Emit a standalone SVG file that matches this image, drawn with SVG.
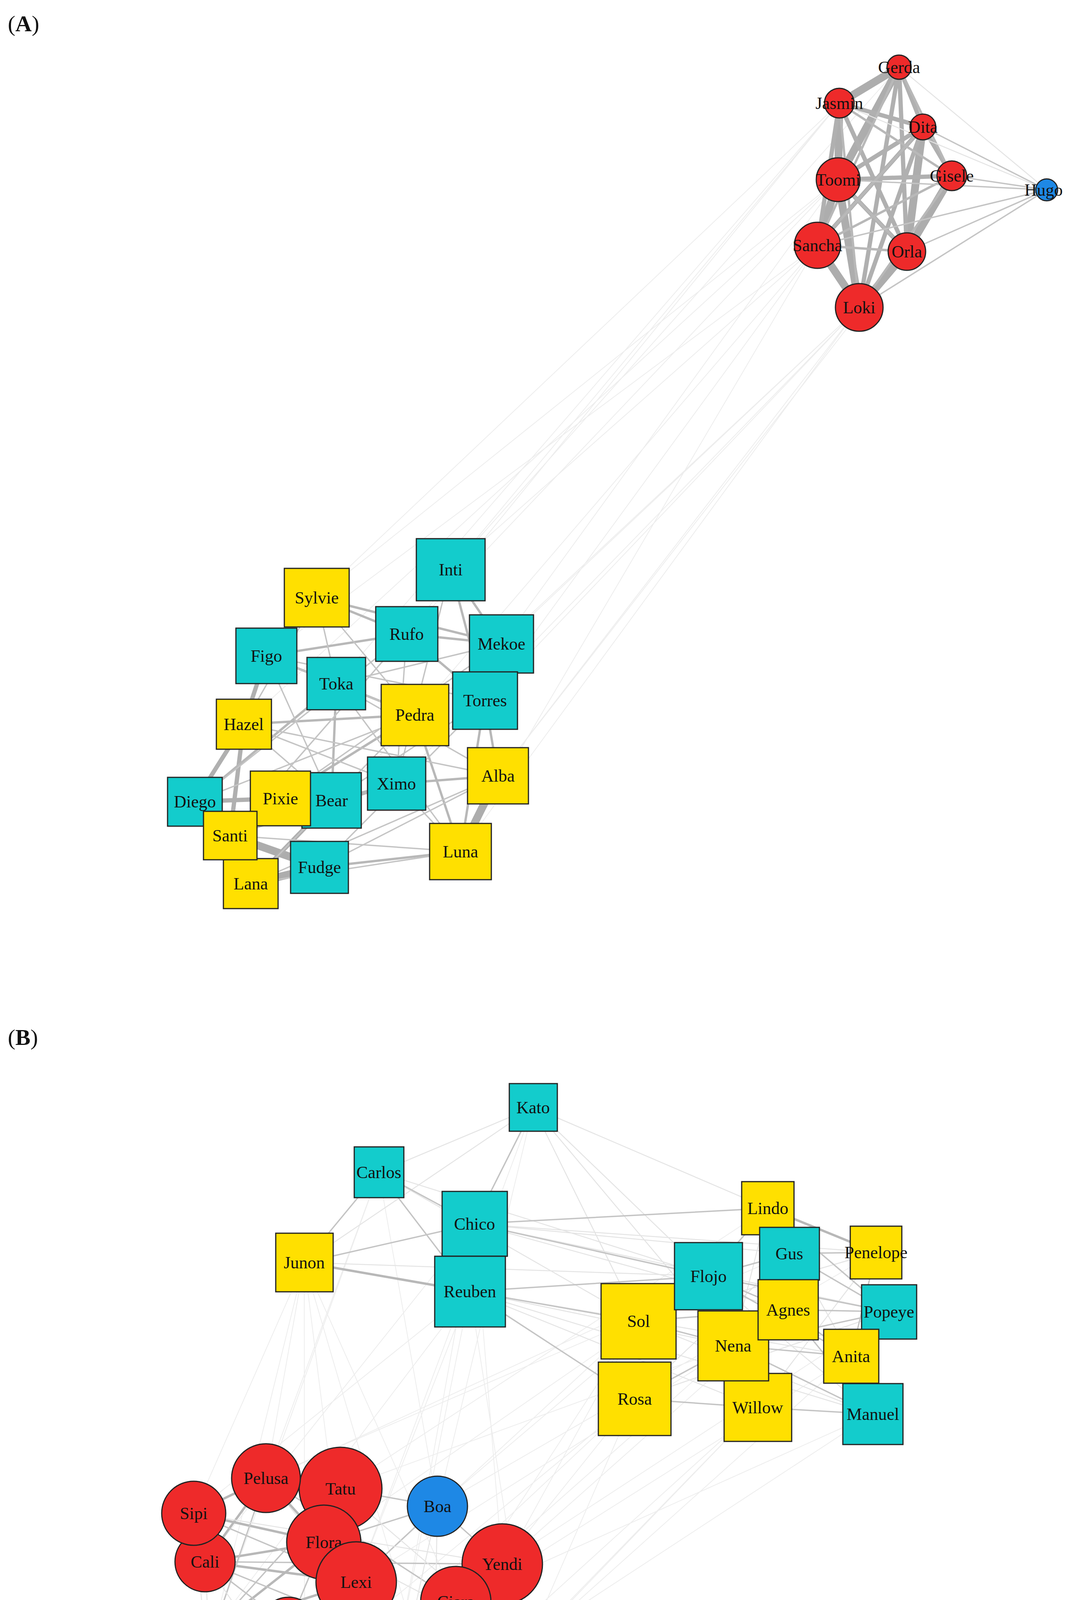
<svg xmlns="http://www.w3.org/2000/svg" width="2755" height="4697" viewBox="0 0 2755 4697">
<style>
text{font-family:"Liberation Serif","Times New Roman",serif;font-size:44px;fill:#111;text-anchor:middle;dominant-baseline:central}
.pl{font-size:58px;text-anchor:start;dominant-baseline:auto}
.r{fill:#ee2a2a;stroke:#222;stroke-width:3}
.b{fill:#1e88e5;stroke:#222;stroke-width:3}
.c{fill:#13cccc;stroke:#222;stroke-width:3}
.y{fill:#ffe000;stroke:#222;stroke-width:3}
.e{fill:none;stroke-linecap:round}
.w1{stroke:#adadad;stroke-width:20}
.w2{stroke:#b0b0b0;stroke-width:11}
.w3{stroke:#b8b8b8;stroke-width:6}
.w4{stroke:#c4c4c4;stroke-width:3.5}
.w5{stroke:#e4e4e4;stroke-width:2.5}
.w6{stroke:#ededed;stroke-width:2}
</style>
<rect width="2755" height="4697" fill="#fff"/>
<text class="pl" x="20" y="80">(<tspan font-weight="bold">A</tspan>)</text>
<text class="pl" x="20" y="2675">(<tspan font-weight="bold">B</tspan>)</text>
<g id="connectors">
<!-- Panel A inter-cluster faint -->
<path class="e w6" d="M2149 264L1154 1458M2149 264L811 1530M2146 460L1041 1623M2146 460L1284 1648M2093 628L1242 1793M2093 628L1062 1830M2200 787L1275 1986M2200 787L1179 2180M2200 787L1015 2006M2093 628L682 1679M2149 264L861 1750M2200 787L1284 1648M2302 172L1154 1458M2146 460L811 1530M2093 628L1154 1458M2200 787L1242 1793M2322 644L1275 1986M2200 787L849 2049M2093 628L1179 2180M2146 460L624 1854M2149 264L1041 1623"/>
<!-- Panel A red cluster -->
<path class="e w1" d="M2149 264L2302 172M2149 264L2146 460M2146 460L2093 628M2093 628L2200 787M2322 644L2200 787M2363 325L2322 644M2302 172L2146 460M2146 460L2200 787M2437 450L2322 644"/>
<path class="e w2" d="M2302 172L2363 325M2149 264L2363 325M2302 172L2200 787M2302 172L2322 644M2363 325L2146 460M2363 325L2437 450M2149 264L2093 628M2146 460L2437 450M2363 325L2093 628M2363 325L2200 787M2149 264L2322 644M2146 460L2322 644"/>
<path class="e w3" d="M2302 172L2437 450M2302 172L2093 628M2149 264L2437 450M2149 264L2200 787M2093 628L2322 644M2437 450L2093 628M2437 450L2200 787M2146 460L2322 644M2093 628L2363 325"/>
<path class="e w4" d="M2680 486L2437 450M2680 486L2363 325M2680 486L2322 644M2680 486L2200 787M2680 486L2146 460M2680 486L2093 628"/>
<path class="e w5" d="M2680 486L2302 172M2680 486L2149 264"/>
<!-- Panel A bottom cluster -->
<path class="e w1" d="M499 2052L589 2139M589 2139L642 2262M642 2262L818 2220M589 2139L818 2220M1179 2180L1275 1986"/>
<path class="e w2" d="M624 1854L589 2139M499 2052L718 2044M718 2044L849 2049M642 2262L849 2049M499 2052L642 2262M682 1679L624 1854M624 1854L499 2052"/>
<path class="e w3" d="M811 1530L1041 1623M682 1679L1041 1623M861 1750L1062 1830M1041 1623L1284 1648M1154 1458L1284 1648M1242 1793L1275 1986M1015 2006L1275 1986M818 2220L1179 2180M1062 1830L1179 2180M682 1679L861 1750M624 1854L1062 1830M849 2049L1015 2006M1241 1793L1179 2180M861 1750L849 2049M1041 1623L1242 1793M718 2044L1062 1830M589 2139L1015 2006M499 2052L861 1750M1154 1458L1242 1793M811 1530L1284 1648"/>
<path class="e w4" d="M811 1530L861 1750M811 1530L1062 1830M682 1679L1062 1830M682 1679L1242 1793M624 1854L1275 1986M624 1854L1015 2006M499 2052L1041 1623M499 2052L1062 1830M642 2262L1062 1830M642 2262L1275 1986M818 2220L1275 1986M589 2139L1179 2180M718 2044L1284 1648M849 2049L1242 1793M861 1750L1284 1648M861 1750L1179 2180M1015 2006L1154 1458M1041 1623L1015 2006M682 1679L849 2049M811 1530L624 1854M589 2139L1041 1623M642 2262L1179 2180M818 2220L1242 1793M1015 2006L1179 2180M624 1854L849 2049M861 1750L1275 1986"/>
<!-- Panel B faint long -->
<path class="e w6" d="M779 3232L549 4168M779 3232L496 3874M779 3232L681 3784M779 3232L952 4619M779 3232L780 4373M779 3232L1110 4357M1203 3306L912 4050M1203 3306L1024 4201M1203 3306L549 4168M1203 3306L496 3874M1635 3382L912 4050M1635 3382L1167 4100M1625 3581L1286 4004M1625 3581L1347 4218M1625 3581L780 4373M1940 3603L1110 4357M1940 3603L1347 4218M1877 3445L1024 4201M1877 3445L872 3811M1814 3267L829 3948M1814 3267L1120 3856M2018 3353L1286 4004M2179 3472L1347 4218M2235 3620L1167 4100M2235 3620L1110 4357M2021 3209L681 3784M1966 3093L872 3811M1365 2835L1120 3856M1365 2835L912 4050M970 3001L681 3784M970 3001L549 4168M1215 3133L1024 4201M1215 3133L525 3998M2276 3358L1286 4004M2243 3206L1120 3856M1635 3382L952 4619M1625 3581L550 4470M1940 3603L952 4619M2179 3472L1024 4201M1877 3445L739 4162M1814 3267L496 3874M1203 3306L1347 4218M1215 3133L1286 4004M779 3232L1167 4100M970 3001L1120 3856"/>
<path class="e w5" d="M1365 2835L1635 3382M1365 2835L1814 3267M1365 2835L1966 3093M1365 2835L970 3001M1365 2835L779 3232M1365 2835L1877 3445M970 3001L1814 3267M970 3001L1635 3382M779 3232L1814 3267M779 3232L1635 3382M1215 3133L2021 3209M1215 3133L2018 3353M1203 3306L2179 3472M1203 3306L2235 3620M1203 3306L1940 3603M1215 3133L2243 3206M1215 3133L2276 3358M1203 3306L1877 3445M1635 3382L2243 3206M1625 3581L2276 3358M1625 3581L2021 3209M1635 3382L2235 3620M1814 3267L2235 3620M1966 3093L2179 3472M1966 3093L1877 3445M2243 3206L1940 3603"/>
<path class="e w4" d="M970 3001L779 3232M970 3001L1203 3306M970 3001L1215 3133M779 3232L1215 3133M1365 2835L1215 3133M1203 3306L1625 3581M1203 3306L1814 3267M1203 3306L1635 3382M1215 3133L1966 3093M1215 3133L1814 3267M1966 3093L2243 3206M2021 3209L2243 3206M2021 3209L2276 3358M1814 3267L2179 3472M2018 3353L2276 3358M2018 3353L2179 3472M1877 3445L2179 3472M1940 3603L2235 3620M1625 3581L1940 3603M1625 3581L1877 3445M1635 3382L1877 3445M1814 3267L2021 3209M1814 3267L2276 3358M1877 3445L2276 3358M1966 3093L2276 3358M2243 3206L2179 3472M2018 3353L2235 3620M1877 3445L2235 3620M1814 3267L2018 3353M1635 3382L2018 3353M1966 3093L1814 3267"/>
<path class="e w3" d="M779 3232L1203 3306M1966 3093L2243 3206M2021 3209L2018 3353M1877 3445L1940 3603"/>
<!-- Panel B red cluster -->
<path class="e w3" d="M496 3874L681 3784M496 3874L829 3948M525 3998L829 3948M525 3998L681 3784M549 4168L912 4050M549 4168L829 3948M549 4168L739 4162M739 4162L1024 4201M549 4168L1024 4201M525 3998L912 4050M681 3784L829 3948"/>
<path class="e w4" d="M549 4168L681 3784M549 4168L872 3811M739 4162L912 4050M739 4162L829 3948M496 3874L912 4050M525 3998L739 4162M525 3998L1024 4201M1024 4201L1347 4218M1167 4100L1347 4218M1110 4357L1347 4218M780 4373L1110 4357M780 4373L1024 4201M550 4470L780 4373M550 4470L1024 4201M550 4470L912 4050M952 4619L780 4373M952 4619L1110 4357M952 4619L1347 4218M952 4619L1024 4201M550 4470L952 4619M829 3948L1120 3856M912 4050L1120 3856M872 3811L1120 3856M1120 3856L1286 4004M1024 4201L1286 4004M739 4162L1167 4100M549 4168L550 4470M549 4168L780 4373M739 4162L780 4373M1167 4100L1110 4357M549 4168L1167 4100M525 3998L1286 4004M681 3784L1167 4100"/>
<path class="e w5" d="M496 3874L550 4470M525 3998L550 4470M525 3998L952 4619M739 4162L952 4619M872 3811L1347 4218M1120 3856L952 4619M1120 3856L1110 4357M681 3784L1024 4201M496 3874L1286 4004M829 3948L1347 4218M912 4050L1110 4357M549 4168L1110 4357M780 4373L1347 4218"/>
</g>
<!-- Panel A nodes -->
<g id="n-Gerda"><circle class="r" cx="2302" cy="172" r="31"/><text x="2302" y="172" font-size="38">Gerda</text></g>
<g id="n-Jasmin"><circle class="r" cx="2149" cy="264" r="38"/><text x="2149" y="264" font-size="38">Jasmin</text></g>
<g id="n-Dita"><circle class="r" cx="2363" cy="325" r="33"/><text x="2363" y="325" font-size="38">Dita</text></g>
<g id="n-Toomi"><circle class="r" cx="2146" cy="460" r="56"/><text x="2146" y="460" font-size="38">Toomi</text></g>
<g id="n-Gisele"><circle class="r" cx="2437" cy="450" r="38"/><text x="2437" y="450" font-size="38">Gisele</text></g>
<g id="n-Hugo"><circle class="b" cx="2680" cy="486" r="28"/><text x="2672" y="486" font-size="38">Hugo</text></g>
<g id="n-Sancha"><circle class="r" cx="2093" cy="628" r="59"/><text x="2093" y="628" font-size="38">Sancha</text></g>
<g id="n-Orla"><circle class="r" cx="2322" cy="644" r="48"/><text x="2322" y="644" font-size="38">Orla</text></g>
<g id="n-Loki"><circle class="r" cx="2200" cy="787" r="61"/><text x="2200" y="787" font-size="38">Loki</text></g>
<g id="n-Inti"><rect class="c" x="1066" y="1379" width="176" height="159"/><text x="1154" y="1458">Inti</text></g>
<g id="n-Sylvie"><rect class="y" x="728" y="1455" width="166" height="150"/><text x="811" y="1530">Sylvie</text></g>
<g id="n-Rufo"><rect class="c" x="962" y="1553" width="159" height="140"/><text x="1041" y="1623">Rufo</text></g>
<g id="n-Mekoe"><rect class="c" x="1202" y="1574" width="164" height="149"/><text x="1284" y="1648">Mekoe</text></g>
<g id="n-Figo"><rect class="c" x="604" y="1608" width="156" height="142"/><text x="682" y="1679">Figo</text></g>
<g id="n-Toka"><rect class="c" x="786" y="1683" width="150" height="134"/><text x="861" y="1750">Toka</text></g>
<g id="n-Torres"><rect class="c" x="1159" y="1720" width="166" height="147"/><text x="1242" y="1793">Torres</text></g>
<g id="n-Pedra"><rect class="y" x="976" y="1752" width="173" height="157"/><text x="1062" y="1830">Pedra</text></g>
<g id="n-Hazel"><rect class="y" x="554" y="1790" width="141" height="128"/><text x="624" y="1854">Hazel</text></g>
<g id="n-Alba"><rect class="y" x="1197" y="1914" width="156" height="144"/><text x="1275" y="1986">Alba</text></g>
<g id="n-Ximo"><rect class="c" x="941" y="1938" width="149" height="136"/><text x="1015" y="2006">Ximo</text></g>
<g id="n-Diego"><rect class="c" x="429" y="1990" width="140" height="125"/><text x="499" y="2052">Diego</text></g>
<g id="n-Bear"><rect class="c" x="773" y="1978" width="152" height="142"/><text x="849" y="2049">Bear</text></g>
<g id="n-Pixie"><rect class="y" x="641" y="1974" width="154" height="140"/><text x="718" y="2044">Pixie</text></g>
<g id="n-Luna"><rect class="y" x="1100" y="2108" width="158" height="144"/><text x="1179" y="2180">Luna</text></g>
<g id="n-Fudge"><rect class="c" x="744" y="2154" width="148" height="133"/><text x="818" y="2220">Fudge</text></g>
<g id="n-Lana"><rect class="y" x="572" y="2198" width="140" height="128"/><text x="642" y="2262">Lana</text></g>
<g id="n-Santi"><rect class="y" x="521" y="2077" width="137" height="124"/><text x="589" y="2139">Santi</text></g>
<!-- Panel B squares -->
<g id="n-Kato"><rect class="c" x="1304" y="2774" width="123" height="122"/><text x="1365" y="2835">Kato</text></g>
<g id="n-Carlos"><rect class="c" x="907" y="2936" width="127" height="130"/><text x="970" y="3001">Carlos</text></g>
<g id="n-Junon"><rect class="y" x="706" y="3157" width="147" height="150"/><text x="779" y="3232">Junon</text></g>
<g id="n-Chico"><rect class="c" x="1132" y="3050" width="167" height="166"/><text x="1215" y="3133">Chico</text></g>
<g id="n-Reuben"><rect class="c" x="1113" y="3216" width="181" height="181"/><text x="1203" y="3306">Reuben</text></g>
<g id="n-Lindo"><rect class="y" x="1899" y="3025" width="134" height="136"/><text x="1966" y="3093">Lindo</text></g>
<g id="n-Penelope"><rect class="y" x="2177" y="3139" width="132" height="135"/><text x="2243" y="3206">Penelope</text></g>
<g id="n-Gus"><rect class="c" x="1945" y="3142" width="153" height="135"/><text x="2021" y="3209">Gus</text></g>
<g id="n-Sol"><rect class="y" x="1539" y="3286" width="192" height="193"/><text x="1635" y="3382">Sol</text></g>
<g id="n-Flojo"><rect class="c" x="1727" y="3181" width="174" height="172"/><text x="1814" y="3267">Flojo</text></g>
<g id="n-Popeye"><rect class="c" x="2206" y="3289" width="141" height="139"/><text x="2276" y="3358">Popeye</text></g>
<g id="n-Rosa"><rect class="y" x="1532" y="3487" width="186" height="188"/><text x="1625" y="3581">Rosa</text></g>
<g id="n-Willow"><rect class="y" x="1854" y="3516" width="173" height="174"/><text x="1940" y="3603">Willow</text></g>
<g id="n-Nena"><rect class="y" x="1787" y="3356" width="181" height="179"/><text x="1877" y="3445">Nena</text></g>
<g id="n-Agnes"><rect class="y" x="1941" y="3276" width="154" height="154"/><text x="2018" y="3353">Agnes</text></g>
<g id="n-Manuel"><rect class="c" x="2158" y="3542" width="154" height="156"/><text x="2235" y="3620">Manuel</text></g>
<g id="n-Anita"><rect class="y" x="2109" y="3403" width="141" height="138"/><text x="2179" y="3472">Anita</text></g>
<!-- Panel B circles -->
<g id="n-Tatu"><circle class="r" cx="872" cy="3811" r="106"/><text x="872" y="3811">Tatu</text></g>
<g id="n-Pelusa"><circle class="r" cx="681" cy="3784" r="88"/><text x="681" y="3784">Pelusa</text></g>
<g id="n-Cali"><circle class="r" cx="525" cy="3998" r="77"/><text x="525" y="3998">Cali</text></g>
<g id="n-Sipi"><circle class="r" cx="496" cy="3874" r="82"/><text x="496" y="3874">Sipi</text></g>
<g id="n-Boa"><circle class="b" cx="1120" cy="3856" r="77"/><text x="1120" y="3856">Boa</text></g>
<g id="n-Flora"><circle class="r" cx="829" cy="3948" r="95"/><text x="829" y="3948">Flora</text></g>
<g id="n-Yendi"><circle class="r" cx="1286" cy="4004" r="103"/><text x="1286" y="4004">Yendi</text></g>
<g id="n-Lexi"><circle class="r" cx="912" cy="4050" r="103"/><text x="912" y="4050">Lexi</text></g>
<g id="n-Elie"><circle class="r" cx="549" cy="4168" r="67"/><text x="549" y="4168">Elie</text></g>
<g id="n-Amarilla"><circle class="r" cx="739" cy="4162" r="73"/><text x="739" y="4162">Amarilla</text></g>
<g id="n-Dora"><circle class="r" cx="1024" cy="4201" r="92"/><text x="1024" y="4201">Dora</text></g>
<g id="n-Ciara"><circle class="r" cx="1167" cy="4100" r="90"/><text x="1167" y="4100">Ciara</text></g>
<g id="n-Valencia"><circle class="r" cx="1347" cy="4218" r="87"/><text x="1347" y="4218">Valencia</text></g>
<g id="n-Roca"><circle class="r" cx="780" cy="4373" r="66"/><text x="780" y="4373">Roca</text></g>
<g id="n-Gabriela"><circle class="r" cx="1110" cy="4357" r="77"/><text x="1110" y="4357">Gabriela</text></g>
<g id="n-Maya"><circle class="r" cx="550" cy="4470" r="56"/><text x="550" y="4470">Maya</text></g>
<g id="n-Pica"><circle class="r" cx="952" cy="4619" r="57"/><text x="952" y="4619">Pica</text></g>
</svg>
